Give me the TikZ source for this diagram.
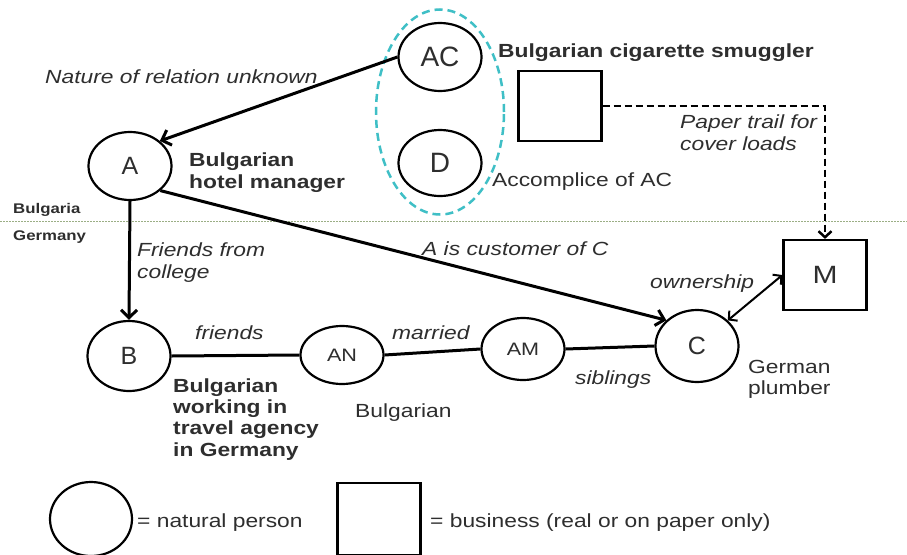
\documentclass[tikz,border=0pt]{standalone}
\usepackage{fontspec}
\setmainfont{Liberation Sans}[FakeStretch=1.2]
\newfontfamily\plainsans{Liberation Sans}
\usetikzlibrary{shapes.geometric,arrows.meta}

\definecolor{txt}{HTML}{2E2E2E}
\definecolor{groupcyan}{HTML}{3FBFC6}
\definecolor{border}{HTML}{9BAE85}

\tikzset{
  person/.style={ellipse, draw=black, line width=2.2pt, inner sep=0pt,
    text=txt, minimum width=83pt, minimum height=68pt},
  biz/.style={rectangle, draw=black, line width=2.2pt, inner sep=0pt,
    text=txt, minimum width=83pt, minimum height=70pt},
  big/.style={font=\plainsans\fontsize{28}{28}\selectfont},
  mid/.style={font=\plainsans\fontsize{25}{25}\selectfont},
  small/.style={font=\fontsize{18}{18}\selectfont},
  lbl/.style={inner sep=0pt, text=txt, align=left, anchor=base west,
    font=\fontsize{19}{22}\selectfont},
  rel/.style={lbl, font=\fontsize{19}{22}\selectfont\itshape},
  role/.style={lbl, font=\fontsize{19}{22}\selectfont\bfseries},
  country/.style={lbl, font=\fontsize{14}{14}\selectfont\bfseries},
  link/.style={line width=3pt},
  arr/.style={link, -{Straight Barb[length=8pt,width=16pt]}},
  own/.style={line width=2pt,
    {Straight Barb[length=6pt,width=13pt]}-{Straight Barb[length=6pt,width=13pt]}},
  trail/.style={line width=2.5pt, dash pattern=on 7pt off 4pt,
    -{Straight Barb[length=6pt,width=13pt]}},
  group/.style={ellipse, draw=groupcyan, line width=2.5pt,
    dash pattern=on 8pt off 5pt, inner sep=0pt},
  divider/.style={draw=border, line width=1pt, dash pattern=on 1.5pt off 1.5pt}
}

\begin{document}
\begin{tikzpicture}[x=1pt,y=-1pt]
\useasboundingbox (0,0) rectangle (907,554);
\fill[white] (0,0) rectangle (907,554);

% border between the two countries
\draw[divider] (0,221) -- (907,221);
\node[country] (bg) at (13,213) {Bulgaria};
\node[country] (de) at (13,240) {Germany};

% AC and his accomplice
\node[group, minimum width=128pt, minimum height=205pt] (grp) at (440,112) {};
\node[person, big] (AC) at (440,57) {AC};
\node[person, big, minimum height=66pt] (D) at (440,163) {D};

% people
\node[person, mid] (A) at (130,166) {A};
\node[person, mid, minimum height=70pt] (B) at (129,356) {B};
\node[person, small, minimum height=58pt] (AN) at (342,355) {AN};
\node[person, small, minimum height=62pt] (AM) at (523,349) {AM};
\node[person, mid, minimum height=72pt] (C) at (697,346) {C};

% businesses
\node[biz] (S) at (560,106) {};
\node[biz, font=\fontsize{25}{25}\selectfont] (M) at (825,275) {M};

% connectors
\draw[arr] (AC.west) -- (A.40);
\draw[arr] (A.south) -- (B.north);
\draw[arr] (A.-39) -- (C.140);
\draw[link] (B.east) -- (AN.west);
\draw[link] (AN.east) -- (AM.west);
\draw[link] (AM.east) -- (C.west);
\draw[own] (C) -- (M.west);
\draw[trail] (S.east) -| (M.north);

% relation labels (multi-line ones are placed by their last baseline)
\node[rel] (l1) at (45,83) {Nature of relation unknown};
\node[rel] (l2) at (680,150) {Paper trail for\\cover loads};
\node[rel] (l3) at (137,278) {Friends from\\college};
\node[rel] (l4) at (422,255) {A is customer of C};
\node[rel] (l5) at (650,288) {ownership};
\node[rel] (l6) at (195,339) {friends};
\node[rel] (l7) at (392,339) {married};
\node[rel] (l8) at (575,384) {siblings};

% role descriptions
\node[role] (r1) at (498,57) {Bulgarian cigarette smuggler};
\node[role] (r2) at (189,188) {Bulgarian\\hotel manager};
\node[lbl] (r3) at (492,186) {Accomplice of AC};
\node[role, font=\fontsize{19}{21.3}\selectfont\bfseries] (r4) at (173,456)
  {Bulgarian\\working in\\travel agency\\in Germany};
\node[lbl] (r5) at (355,417) {Bulgarian};
\node[lbl, font=\fontsize{19}{21}\selectfont] (r6) at (748,394) {German\\plumber};

% legend
\node[person, minimum width=82pt, minimum height=74pt] (kp) at (91,519) {};
\node[lbl] (kpt) at (137,527) {= natural person};
\node[biz, minimum height=72pt] (kb) at (379,519) {};
\node[lbl] (kbt) at (430,527) {= business (real or on paper only)};
\end{tikzpicture}
\end{document}
